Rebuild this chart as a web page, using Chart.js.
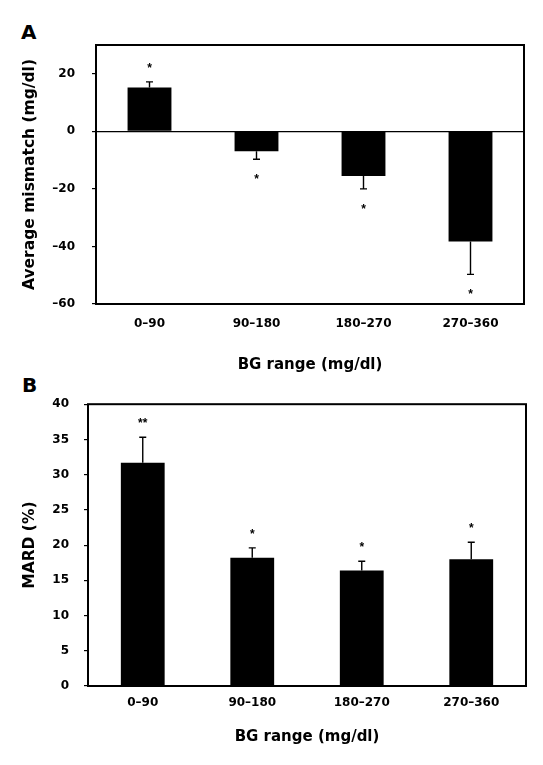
<!DOCTYPE html>
<html>
<head>
<meta charset="utf-8">
<script src="https://cdn.jsdelivr.net/npm/chart.js@4/dist/chart.umd.min.js"></script>
<style>
  body { margin: 0; background: #fff; }
  #wrap { position: relative; width: 543px; height: 765px; }
  canvas { position: absolute; left: 0; }
  .panel { position: absolute; font: bold 20px "DejaVu Sans", sans-serif; line-height: 1; color: #000; }
</style>
</head>
<body>
<div id="wrap">
  <div class="panel" style="left:21px; top:22px">A</div>
  <div class="panel" style="left:22px; top:375px">B</div>
  <canvas id="chartA" width="543" height="382" style="top:0"></canvas>
  <canvas id="chartB" width="543" height="383" style="top:382px"></canvas>
</div>
<script>
// data
const categories = ['0–90', '90–180', '180–270', '270–360'];

const mismatch = [15.2, -6.9, -15.5, -38.3];
const mismatchErr = [2.0, 2.8, 4.5, 11.4];
const mismatchStars = ['*', '*', '*', '*'];
const mismatchTicks = [-60, -40, -20, 0, 20];

const mard = [31.7, 18.2, 16.4, 18.0];
const mardErr = [3.6, 1.4, 1.3, 2.4];
const mardStars = ['**', '*', '*', '*'];
const mardTicks = [0, 5, 10, 15, 20, 25, 30, 35, 40];

Chart.defaults.font.family = '"DejaVu Sans", sans-serif';
Chart.defaults.color = '#000';

// one-sided error bars plus significance stars
const errorBars = {
    id: 'errorBars',
    afterDatasetsDraw(chart, args, opts) {
	const ctx = chart.ctx;
	const y = chart.scales.y;
	const vals = chart.data.datasets[0].data;
	ctx.save();
	ctx.strokeStyle = '#000';
	ctx.fillStyle = '#000';
	ctx.lineWidth = 1.4;
	chart.getDatasetMeta(0).data.forEach((bar, i) => {
	    const v = vals[i];
	    const dir = v >= 0 ? 1 : -1;
	    const end = y.getPixelForValue(v + dir * opts.errors[i]);
	    ctx.beginPath();
	    ctx.moveTo(bar.x, bar.y);
	    ctx.lineTo(bar.x, end);
	    ctx.moveTo(bar.x - 3.5, end);
	    ctx.lineTo(bar.x + 3.5, end);
	    ctx.stroke();
	    ctx.font = 'bold 12px "Liberation Sans", Arial, sans-serif';
	    ctx.textAlign = 'center';
	    ctx.textBaseline = 'alphabetic';
	    const cy = end - dir * opts.gap;
	    ctx.fillText(opts.stars[i], bar.x, cy + 7);
	});
	ctx.restore();
    }
};

// frame round the plot area
const frame = {
    id: 'frame',
    afterDraw(chart) {
	const a = chart.chartArea;
	const ctx = chart.ctx;
	ctx.save();
	ctx.strokeStyle = '#000';
	ctx.lineWidth = 2;
	ctx.strokeRect(a.left, a.top, a.right - a.left, a.bottom - a.top);
	ctx.restore();
    }
};

function makeChart(id, cfg) {
    return new Chart(document.getElementById(id), {
	type: 'bar',
	data: {
	    labels: categories,
	    datasets: [{
		data: cfg.values,
		backgroundColor: '#000',
		borderWidth: 0,
		barPercentage: cfg.barPct,
		categoryPercentage: 1
	    }]
	},
	options: {
	    responsive: false,
	    animation: false,
	    layout: { padding: { top: cfg.top, right: cfg.right, left: 0, bottom: 0 } },
	    plugins: {
		legend: { display: false },
		tooltip: { enabled: false },
		errorBars: { errors: cfg.errors, stars: cfg.stars, gap: 17 }
	    },
	    scales: {
		x: {
		    grid: { display: false, drawTicks: false },
		    border: { display: false },
		    ticks: { font: { size: 12, weight: 'bold' }, padding: cfg.xPad, maxRotation: 0 },
		    title: {
			display: true, text: 'BG range (mg/dl)',
			font: { size: 15, weight: 'bold' },
			padding: { top: 0, bottom: cfg.titlePad }
		    },
		    afterFit: s => { s.height = cfg.xHeight; }
		},
		y: {
		    min: cfg.min, max: cfg.max,
		    afterBuildTicks: s => { s.ticks = cfg.ticks.map(v => ({ value: v })); },
		    grid: {
			color: c => (cfg.zeroLine && c.tick && c.tick.value === 0) ? '#000' : 'rgba(0,0,0,0)',
			tickColor: '#000',
			tickLength: 4,
			lineWidth: 1.2
		    },
		    border: { display: false },
		    ticks: {
			font: { size: 12, weight: 'bold' },
			padding: cfg.yPad,
			callback: v => v < 0 ? '–' + Math.abs(v) : String(v)
		    },
		    title: {
			display: true, text: cfg.yTitle,
			font: { size: 15.5, weight: 'bold' },
			padding: { top: 21, bottom: 0 }
		    },
		    afterFit: s => { s.width = cfg.yWidth; }
		}
	    }
	},
	plugins: [errorBars, frame]
    });
}

makeChart('chartA', {
    values: mismatch, errors: mismatchErr, stars: mismatchStars, ticks: mismatchTicks,
    min: -60, max: 30, zeroLine: true, barPct: 0.41,
    yTitle: 'Average mismatch (mg/dl)',
    top: 45, right: 19, yWidth: 96, xHeight: 78,
    xPad: 13, yPad: 17, titlePad: 8
});

makeChart('chartB', {
    values: mard, errors: mardErr, stars: mardStars, ticks: mardTicks,
    min: 0, max: 40, zeroLine: false, barPct: 0.4,
    yTitle: 'MARD (%)',
    top: 21, right: 17, yWidth: 88, xHeight: 79,
    xPad: 10, yPad: 15, titlePad: 19
});
</script>
</body>
</html>
